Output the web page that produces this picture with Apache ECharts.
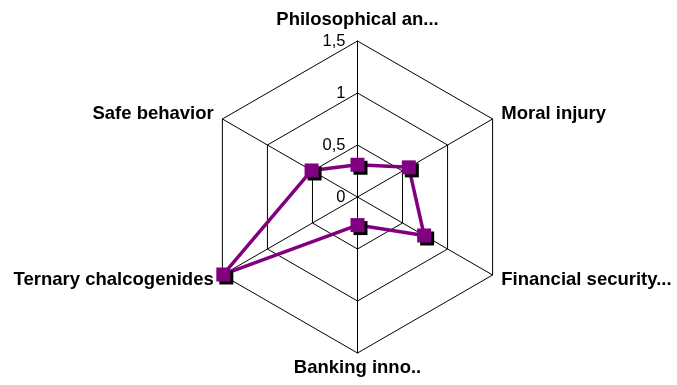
<!DOCTYPE html>
<html>
<head>
<meta charset="utf-8">
<script src="https://cdn.jsdelivr.net/npm/echarts@6/dist/echarts.min.js"></script>
<style>
  html, body { margin: 0; padding: 0; background: #fff; }
  #chart { width: 677px; height: 385px; }
</style>
</head>
<body>
<div id="chart"></div>
<script>
  // indicators in echarts order (counterclockwise from the top)
  const indicatorNames = ['Philosophical an...', 'Safe behavior', 'Ternary chalcogenides', 'Banking inno..', 'Financial security...', 'Moral injury']
  const seriesValues = [0.31, 0.51, 1.49, 0.27, 0.74, 0.57]
  const axisMax = 1.5

  let myChart = echarts.init(document.getElementById('chart'))
  myChart.setOption({
    animation: false,
    radar: {
      center: [357.5, 197],
      radius: 156,
      startAngle: 90,
      splitNumber: 3,
      shape: 'polygon',
      nameGap: 10,
      axisName: {
        color: '#000',
        fontFamily: 'Liberation Sans, Arial, sans-serif',
        fontSize: 18.5,
        fontWeight: 'bold'
      },
      axisLine: { lineStyle: { color: '#000', width: 1 } },
      splitLine: { lineStyle: { color: '#000', width: 1 } },
      splitArea: { show: false },
      axisTick: { show: false },
      axisLabel: { show: false },
      indicator: indicatorNames.map((name, i) => {
        let ind = { name: name, min: 0, max: axisMax }
        if (i === 0) {
          ind.nameGap = 12
          // value labels only on the top axis
          ind.axisLabel = {
            show: true,
            margin: 12,
            color: '#000',
            fontFamily: 'Liberation Sans, Arial, sans-serif',
            fontSize: 16.5,
            formatter: v => String(v).replace('.', ',')
          }
        }
        if (i === 3) ind.nameGap = 5
        return ind
      })
    },
    series: [{
      type: 'radar',
      symbol: 'rect',
      symbolSize: 14,
      lineStyle: { color: '#800080', width: 3.5 },
      itemStyle: {
        color: '#800080',
        shadowColor: '#000',
        shadowOffsetX: 3,
        shadowOffsetY: 3,
        shadowBlur: 0
      },
      data: [{ value: seriesValues }]
    }]
  })
</script>
</body>
</html>
